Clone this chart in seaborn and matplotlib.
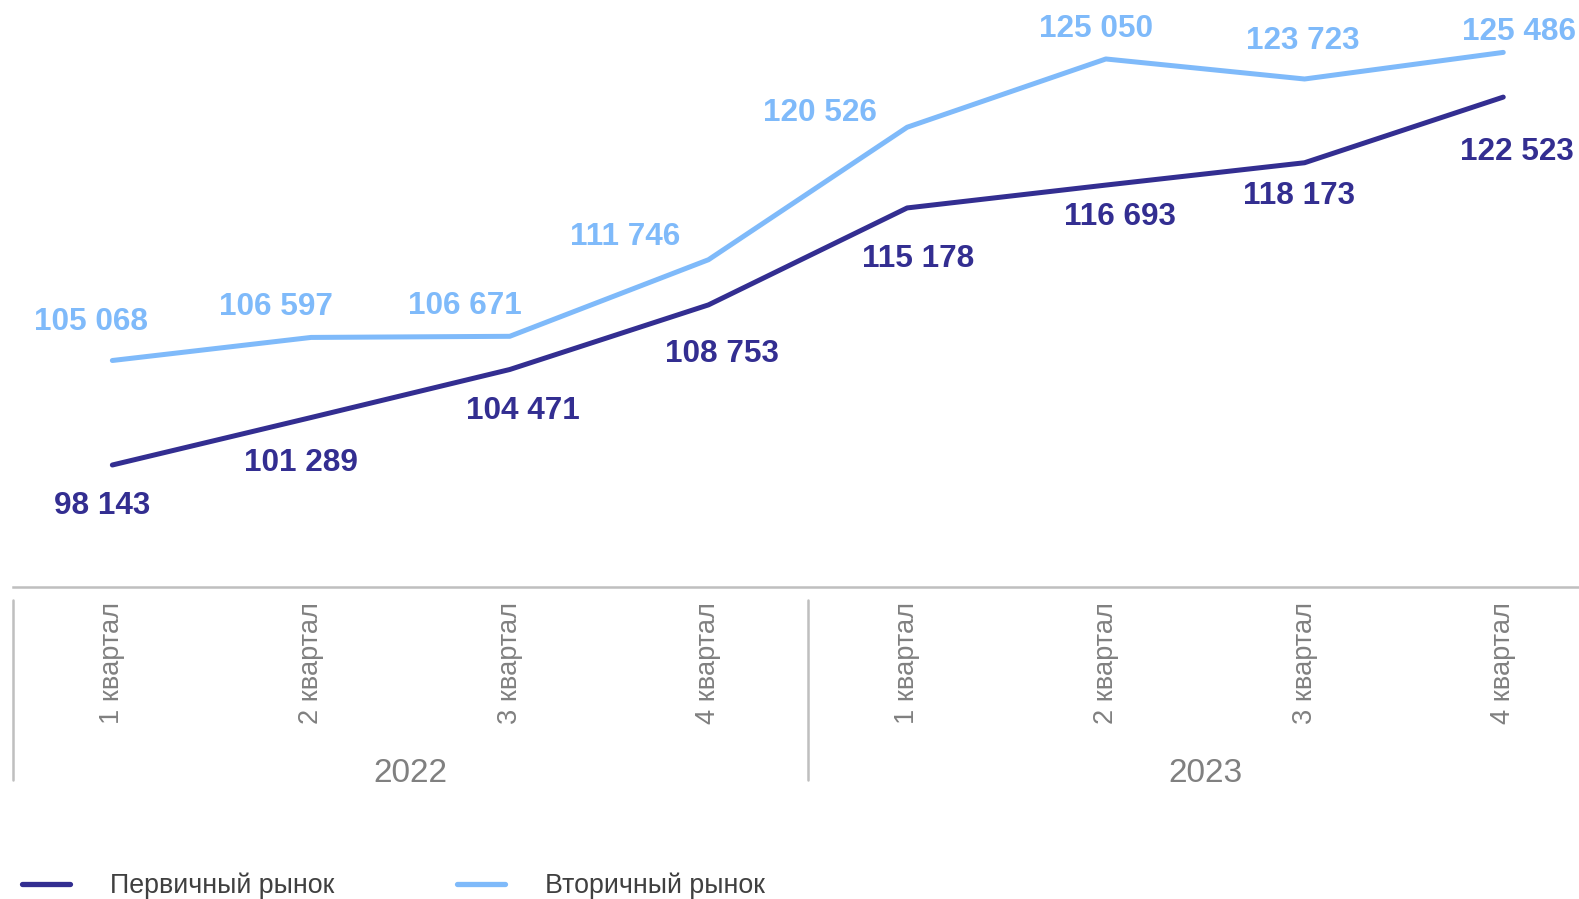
import pandas as pd
import seaborn as sns
import matplotlib.pyplot as plt
from matplotlib.lines import Line2D
import matplotlib.transforms as mtransforms

# data
quarters = ['1 квартал', '2 квартал', '3 квартал', '4 квартал',
            '1 квартал', '2 квартал', '3 квартал', '4 квартал']
years = ['2022', '2023']
primary = [98143, 101289, 104471, 108753, 115178, 116693, 118173, 122523]
secondary = [105068, 106597, 106671, 111746, 120526, 125050, 123723, 125486]
series_names = ['Первичный рынок', 'Вторичный рынок']
colors = ['#332E91', '#7FBAFA']

# label offsets in pixels (dx, dy up)
prim_off = [(-10, -41), (-10, -45), (13, -41), (13, -49), (11, -51), (14, -32), (-6, -33), (14, -55)]
sec_off = [(-21, 38), (-35, 30), (-45, 30), (-83, 23), (-87, 14), (-10, 30), (-2, 38), (16, 20)]

sns.set_style('white')
plt.rcParams['font.family'] = ['Liberation Sans', 'DejaVu Sans']

tab = pd.DataFrame({
    'x': list(range(len(quarters))) * 2,
    'value': primary + secondary,
    'series': [series_names[0]] * len(primary) + [series_names[1]] * len(secondary),
})

fig = plt.figure(figsize=(15.79, 8.99), dpi=100)
W, H = 1579, 899
ax = fig.add_axes([13 / W, (H - 587) / H, (W - 13) / W, 587 / H])

sns.lineplot(data=tab, x='x', y='value', hue='series', palette=colors,
             linewidth=3.6, ax=ax, legend=False, solid_capstyle='round')

ax.set_xlim(-0.5, (W - 13) / 198.7 - 0.5)
ax.set_ylim(90058, 128958)

for vals, offs, c in [(primary, prim_off, colors[0]), (secondary, sec_off, colors[1])]:
    for i, (v, (dx, dy)) in enumerate(zip(vals, offs)):
        txt = f'{v:,}'.replace(',', ' ')
        ax.annotate(txt, (i, v), xytext=(dx * 0.72, dy * 0.72), textcoords='offset points',
                    ha='center', va='center', fontsize=22.7, fontweight='bold', color=c)

for s in ['top', 'right', 'left']:
    ax.spines[s].set_visible(False)
ax.spines['bottom'].set_color('#BFBFBF')
ax.spines['bottom'].set_linewidth(1.8)
ax.set_yticks([])
ax.set_xticks(range(len(quarters)))
ax.set_xticklabels(quarters, rotation=90, va='top', ha='center', color='#808080', fontsize=19.6)
ax.tick_params(axis='x', length=0, pad=11)
ax.set_xlabel('')
ax.set_ylabel('')

trans = mtransforms.blended_transform_factory(ax.transData, ax.transAxes)
for k, yr in enumerate(years):
    ax.text(1.5 + 4 * k, -0.318, yr, transform=trans, ha='center', va='center',
            fontsize=24, color='#808080')
for xb in [-0.5, 3.5]:
    ax.add_line(Line2D([xb, xb], [-0.022, -0.329], transform=trans, color='#BFBFBF',
                       linewidth=1.8, clip_on=False))

handles = [Line2D([], [], color=c, linewidth=3.8) for c in colors]
fig.legend(handles, series_names, loc='center left', bbox_to_anchor=(22 / W, 13 / H),
           ncol=2, frameon=False, fontsize=19.3, handlelength=1.8, handletextpad=1.5,
           columnspacing=4.55, borderpad=0, borderaxespad=0, labelcolor='#404040')

fig.savefig('out.png', dpi=100)
